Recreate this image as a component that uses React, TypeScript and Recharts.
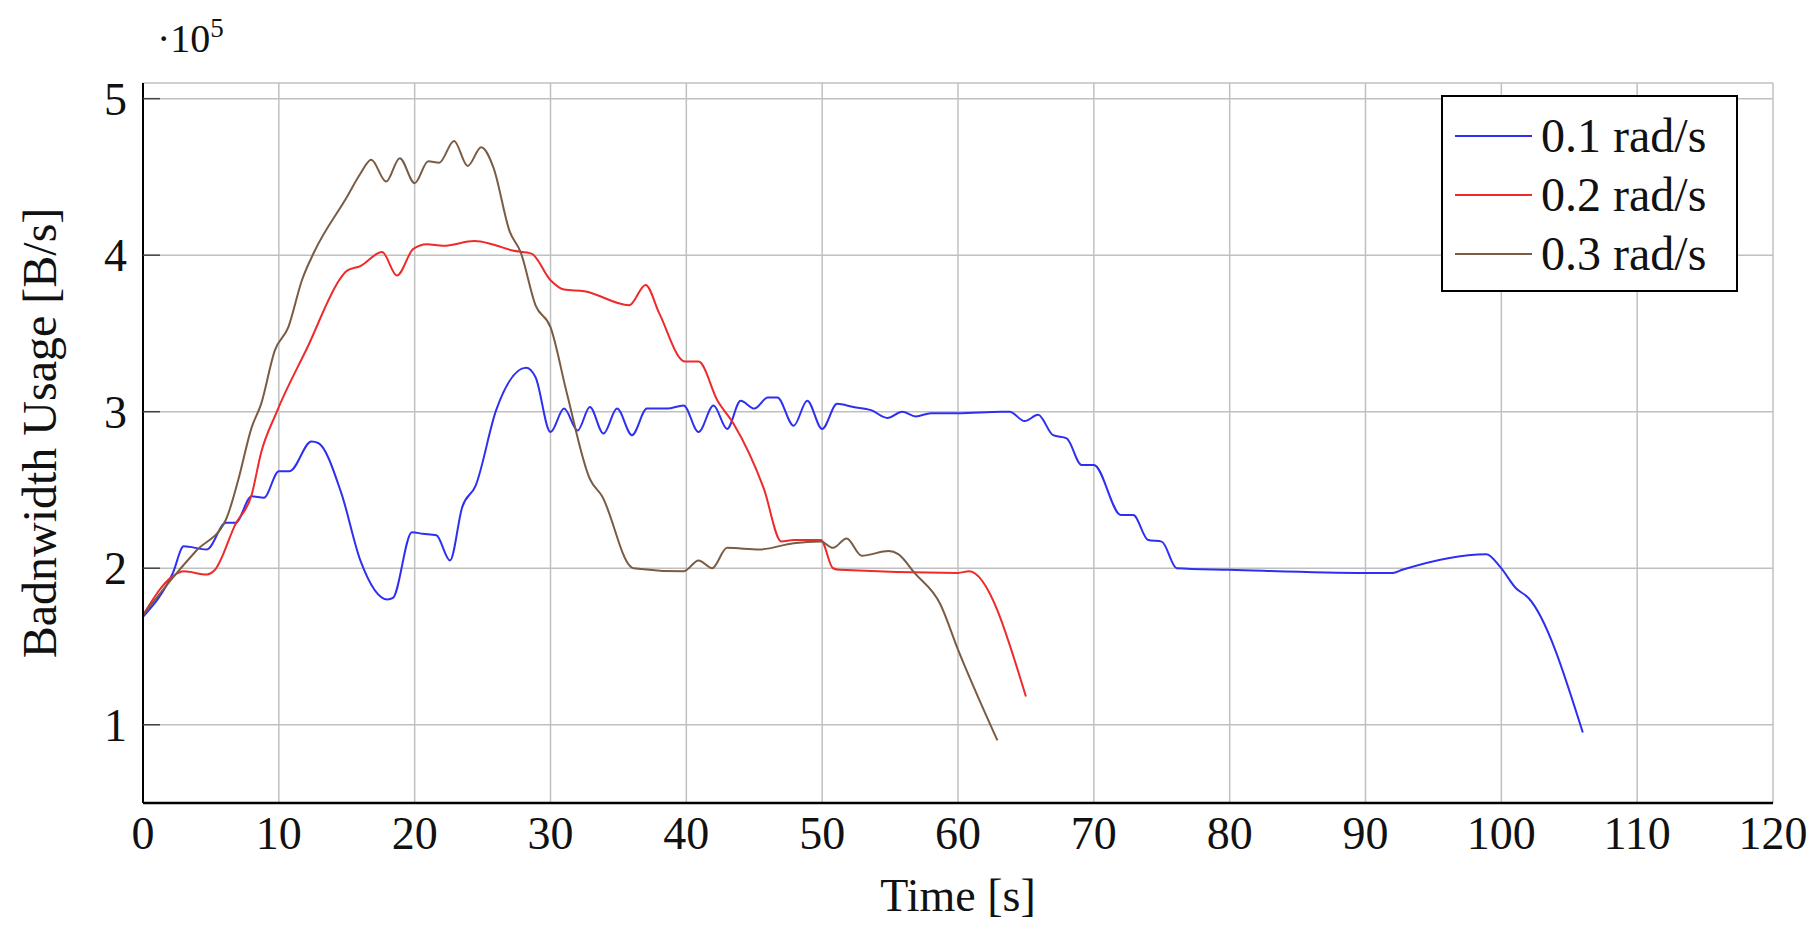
import React from 'react';
import { LineChart, Line, XAxis, YAxis, CartesianGrid, Legend, Label } from 'recharts';

const FONT = '"Liberation Serif", "DejaVu Serif", serif';

// tick labels
const xTicks = [0, 10, 20, 30, 40, 50, 60, 70, 80, 90, 100, 110, 120];
const yTicks = [1, 2, 3, 4, 5];

// usage values are in units of 10^5 B/s
const blueTime = [
  0, 2.2, 3, 4.7, 6.1, 6.8, 8, 8.9, 10, 10.8, 12.4, 12.9, 14.6, 16, 18, 18.4, 19.8, 20.6, 21.6,
  22.6, 23.5, 24.5, 26, 28.2, 28.9, 30, 31, 32, 32.9, 33.9, 34.9, 36, 37.1, 38.6, 39.8, 40.9, 42,
  43, 44, 45, 46, 46.7, 47.9, 48.9, 50, 51.1, 52.3, 53.6, 54.8, 55.9, 56.9, 58, 60, 63.2, 63.8,
  64.9, 65.9, 67, 68, 69.1, 70, 72, 72.9, 74, 75, 76.1, 80, 90, 92, 92.7, 98.9, 99.9, 101.1, 102,
  106,
];
const blueUsage = [
  1.69, 1.97, 2.14, 2.12, 2.29, 2.29, 2.46, 2.45, 2.62, 2.62, 2.81, 2.8, 2.48, 2.05, 1.8, 1.81,
  2.23, 2.22, 2.21, 2.05, 2.39, 2.53, 3.01, 3.28, 3.22, 2.87, 3.02, 2.88, 3.03, 2.86, 3.02, 2.85,
  3.02, 3.02, 3.04, 2.87, 3.04, 2.89, 3.07, 3.02, 3.09, 3.09, 2.91, 3.07, 2.89, 3.05, 3.03, 3.01,
  2.96, 3.0, 2.97, 2.99, 2.99, 3.0, 3.0, 2.94, 2.98, 2.85, 2.83, 2.66, 2.66, 2.34, 2.34, 2.18,
  2.17, 2.0, 1.99, 1.97, 1.97, 1.99, 2.09, 2.01, 1.87, 1.81, 0.95,
];

const redTime = [
  0, 2.2, 3, 4.7, 5.3, 6.8, 8, 8.7, 9.8, 12.1, 14.6, 15, 16, 17.6, 18.7, 19.9, 20.9, 22.1, 24.4,
  25.7, 27.2, 28.6, 30, 31, 32.5, 35.8, 37, 38, 39.9, 40.9, 42.3, 43.5, 45.7, 47, 47.9, 49.9, 50.8,
  51.3, 60, 60.8, 65,
];
const redUsage = [
  1.7, 1.95, 1.98, 1.96, 1.99, 2.28, 2.47, 2.74, 2.99, 3.41, 3.86, 3.9, 3.93, 4.02, 3.87, 4.04,
  4.07, 4.06, 4.09, 4.07, 4.03, 4.01, 3.84, 3.78, 3.77, 3.68, 3.81, 3.63, 3.32, 3.32, 3.07, 2.92,
  2.51, 2.17, 2.18, 2.18, 2.0, 1.99, 1.97, 1.98, 1.18,
];

const brownTime = [
  0, 2.2, 3.9, 6.1, 7, 8, 8.7, 9.7, 10.7, 11.7, 12.6, 15, 16, 16.8, 17.9, 18.9, 20, 21, 21.8, 22.9,
  23.9, 24.9, 25.8, 27, 27.8, 28.9, 30, 31.2, 32.9, 33.8, 35.9, 36.1, 39.8, 40.9, 41.9, 43, 45.4,
  47.9, 49.9, 50.8, 51.8, 52.9, 54.9, 55.6, 56.8, 58.7, 60, 62.9,
];
const brownUsage = [
  1.7, 1.94, 2.11, 2.31, 2.56, 2.9, 3.05, 3.39, 3.54, 3.84, 4.02, 4.37, 4.52, 4.61, 4.47, 4.62,
  4.46, 4.6, 4.59, 4.73, 4.57, 4.69, 4.56, 4.15, 4.02, 3.68, 3.54, 3.12, 2.57, 2.46, 2.01, 2.0,
  1.98, 2.05, 2.0, 2.13, 2.12, 2.16, 2.17, 2.13, 2.19, 2.08, 2.11, 2.09, 1.97, 1.77, 1.48, 0.9,
];

const zip = (t: number[], v: number[]) => t.map((time, i) => ({ time, usage: v[i] }));

const series = [
  { name: '0.1 rad/s', color: '#2f2ff2', data: zip(blueTime, blueUsage) },
  { name: '0.2 rad/s', color: '#ee2a2a', data: zip(redTime, redUsage) },
  { name: '0.3 rad/s', color: '#7a5c44', data: zip(brownTime, brownUsage) },
];

const YTick = (props: any) => {
  const { x, y, payload } = props;
  return (
    <g>
      <line x1={x + 16} x2={x + 33} y1={y} y2={y} stroke="#444" strokeWidth={1.5} />
      <text x={x} y={y} dy="0.35em" textAnchor="end" fontFamily={FONT} fontSize={46} fill="#111">
        {payload.value}
      </text>
    </g>
  );
};

const renderLegend = () => (
  <div
    style={{
      boxSizing: 'border-box',
      width: 297,
      height: 197,
      border: '2px solid #000',
      background: '#fff',
      padding: '9px 0 0 12px',
      fontFamily: FONT,
      fontSize: 48,
      color: '#111',
    }}
  >
    {series.map((s) => (
      <div key={s.name} style={{ display: 'flex', alignItems: 'center', height: 59 }}>
        <span style={{ width: 77, borderTop: `2px solid ${s.color}`, marginRight: 9 }} />
        <span style={{ lineHeight: '59px', whiteSpace: 'nowrap' }}>{s.name}</span>
      </div>
    ))}
  </div>
);

const App: React.FC = () => {
  return (
    <div style={{ width: 1809, height: 926, background: '#fff' }}>
      <style>{'body{margin:0;background:#fff}'}</style>
      <LineChart width={1809} height={926} margin={{ top: 83, right: 36, left: 0, bottom: 0 }}>
        <CartesianGrid stroke="#c0c0c0" strokeWidth={1.5} />
        <XAxis
          type="number"
          dataKey="time"
          domain={[0, 120]}
          ticks={xTicks}
          interval={0}
          height={123}
          tickSize={0}
          tickMargin={13}
          axisLine={{ stroke: '#000', strokeWidth: 2.5 }}
          tick={{ fontFamily: FONT, fontSize: 46, fill: '#111' }}
          allowDataOverflow
        >
          <Label
            content={(p: any) => (
              <text
                x={p.viewBox.x + p.viewBox.width / 2}
                y={p.viewBox.y + 108}
                textAnchor="middle"
                fontFamily={FONT}
                fontSize={46}
                fill="#111"
              >
                Time [s]
              </text>
            )}
          />
        </XAxis>
        <YAxis
          type="number"
          domain={[0.5, 5.1]}
          ticks={yTicks}
          interval={0}
          width={143}
          tickSize={0}
          tickMargin={16}
          axisLine={{ stroke: '#000', strokeWidth: 2 }}
          tick={<YTick />}
          allowDataOverflow
        >
          <Label
            content={(p: any) => {
              const cx = p.viewBox.x + 56;
              const cy = p.viewBox.y + p.viewBox.height / 2 - 10;
              return (
                <g>
                  <text
                    x={cx}
                    y={cy}
                    transform={`rotate(-90 ${cx} ${cy})`}
                    textAnchor="middle"
                    fontFamily={FONT}
                    fontSize={48}
                    fill="#111"
                  >
                    Badnwidth Usage [B/s]
                  </text>
                  <text x={p.viewBox.x + 157} y={p.viewBox.y - 31} fontFamily={FONT} fontSize={40} fill="#111">
                    ·10
                    <tspan dy={-15} fontSize={27}>
                      5
                    </tspan>
                  </text>
                </g>
              );
            }}
          />
        </YAxis>
        {series.map((s) => (
          <Line
            key={s.name}
            data={s.data}
            dataKey="usage"
            name={s.name}
            type="monotone"
            stroke={s.color}
            strokeWidth={2}
            dot={false}
            activeDot={false}
            isAnimationActive={false}
          />
        ))}
        <Legend
          layout="horizontal"
          align="center"
          verticalAlign="middle"
          content={renderLegend}
          wrapperStyle={{ position: 'absolute', left: 1441, top: 95, width: 297, height: 197 }}
        />
      </LineChart>
    </div>
  );
};

export default App;
